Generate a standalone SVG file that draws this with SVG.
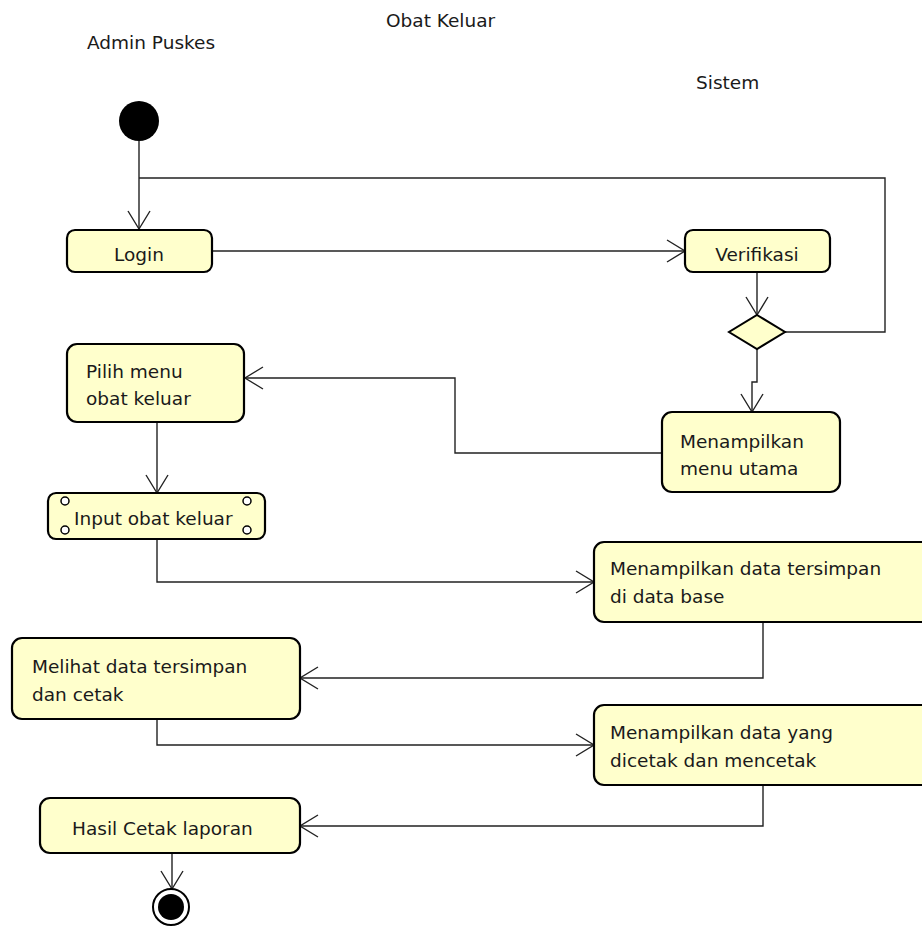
<svg xmlns="http://www.w3.org/2000/svg" width="922" height="929" viewBox="0 0 922 929">
<style>
.box{fill:#ffffcc;stroke:#000;stroke-width:2.2}
.txt{font-family:"DejaVu Sans",sans-serif;font-size:18.5px;fill:#1a1a1a}
.title{font-family:"DejaVu Sans",sans-serif;font-size:18.5px;fill:#1a1a1a}
.conn{fill:none;stroke:#222;stroke-width:1.4}
.pin{fill:#fff;stroke:#000;stroke-width:1.5}
</style>
<defs>
<marker id="arr" markerUnits="userSpaceOnUse" markerWidth="24" markerHeight="26" refX="19" refY="12" orient="auto">
<path d="M1,1 L19,12 L1,23" fill="none" stroke="#222" stroke-width="1.4"/>
</marker>
</defs>
<rect width="922" height="929" fill="#fff"/>
<text class="title" x="386" y="27">Obat Keluar</text>
<text class="title" x="87" y="49">Admin Puskes</text>
<text class="title" x="696" y="89">Sistem</text>

<g id="connectors">
<path class="conn" d="M139,141 L139,229" marker-end="url(#arr)"/>
<path class="conn" d="M139,178 L885,178 L885,332 L785,332"/>
<path class="conn" d="M212,251 L685,251" marker-end="url(#arr)"/>
<path class="conn" d="M757,273 L757,315" marker-end="url(#arr)"/>
<path class="conn" d="M757,349 L757,382 L752,382 L752,412" marker-end="url(#arr)"/>
<path class="conn" d="M662,453 L455,453 L455,378 L245,378" marker-end="url(#arr)"/>
<path class="conn" d="M157,422 L157,493" marker-end="url(#arr)"/>
<path class="conn" d="M157,539 L157,582 L594,582" marker-end="url(#arr)"/>
<path class="conn" d="M763,622 L763,678 L300,678" marker-end="url(#arr)"/>
<path class="conn" d="M157,719 L157,745 L594,745" marker-end="url(#arr)"/>
<path class="conn" d="M763,785 L763,826 L300,826" marker-end="url(#arr)"/>
<path class="conn" d="M172,853 L172,889" marker-end="url(#arr)"/>
</g>

<g id="start"><circle cx="139" cy="121" r="20" fill="#000"/></g>

<g id="login">
<rect class="box" x="67" y="230" width="145" height="42" rx="8"/>
<text class="txt" x="139" y="261" text-anchor="middle">Login</text>
</g>

<g id="verifikasi">
<rect class="box" x="685" y="230" width="145" height="42" rx="8"/>
<text class="txt" x="757" y="261" text-anchor="middle">Verifikasi</text>
</g>

<g id="decision">
<path d="M757,315 L785,332 L757,349 L729,332 Z" fill="#ffffcc" stroke="#000" stroke-width="2"/>
</g>

<g id="menu-utama">
<rect class="box" x="662" y="412" width="178" height="80" rx="10"/>
<text class="txt" x="680" y="448">Menampilkan</text>
<text class="txt" x="680" y="475">menu utama</text>
</g>

<g id="pilih-menu">
<rect class="box" x="67" y="344" width="177" height="78" rx="10"/>
<text class="txt" x="86" y="378">Pilih menu</text>
<text class="txt" x="86" y="405">obat keluar</text>
</g>

<g id="input-obat">
<rect class="box" x="48" y="493" width="217" height="46" rx="8"/>
<circle class="pin" cx="65" cy="501" r="4"/>
<circle class="pin" cx="65" cy="530" r="4"/>
<circle class="pin" cx="247" cy="501" r="4"/>
<circle class="pin" cx="247" cy="530" r="4"/>
<text class="txt" x="74" y="525">Input obat keluar</text>
</g>

<g id="data-tersimpan">
<rect class="box" x="594" y="542" width="340" height="80" rx="10"/>
<text class="txt" x="610" y="575">Menampilkan data tersimpan</text>
<text class="txt" x="610" y="603">di data base</text>
</g>

<g id="melihat">
<rect class="box" x="12" y="638" width="288" height="81" rx="10"/>
<text class="txt" x="32" y="673">Melihat data tersimpan</text>
<text class="txt" x="32" y="701">dan cetak</text>
</g>

<g id="data-dicetak">
<rect class="box" x="594" y="705" width="340" height="80" rx="10"/>
<text class="txt" x="610" y="739">Menampilkan data yang</text>
<text class="txt" x="610" y="767">dicetak dan mencetak</text>
</g>

<g id="hasil">
<rect class="box" x="40" y="798" width="260" height="55" rx="10"/>
<text class="txt" x="72" y="835">Hasil Cetak laporan</text>
</g>

<g id="end">
<circle cx="171" cy="907" r="18" fill="#fff" stroke="#000" stroke-width="2"/>
<circle cx="171" cy="907" r="13" fill="#000"/>
</g>
</svg>
